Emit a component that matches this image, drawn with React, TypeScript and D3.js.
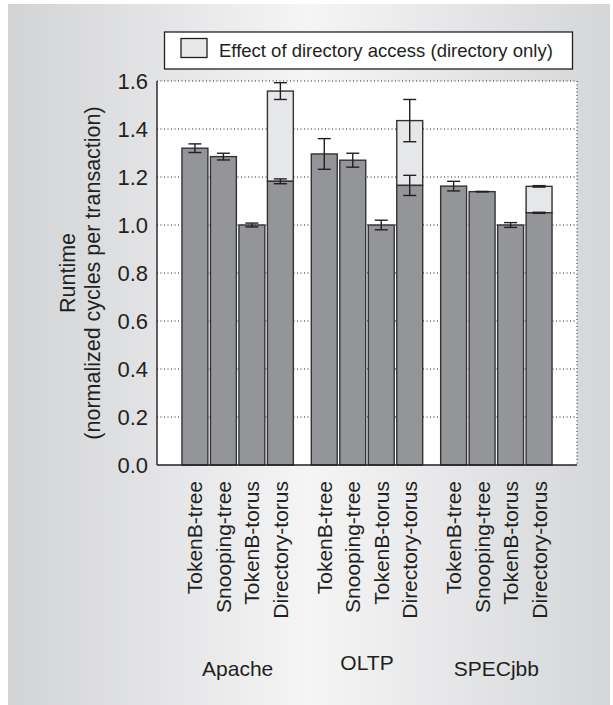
import React from 'react';
import * as d3 from 'd3';

// Runtime normalized to TokenB-torus, per workload
const workloads = ['Apache', 'OLTP', 'SPECjbb'];
const protocols = ['TokenB-tree', 'Snooping-tree', 'TokenB-torus', 'Directory-torus'];

const apacheRuntime = [1.32, 1.285, 1.0, 1.182];
const oltpRuntime = [1.296, 1.27, 1.0, 1.165];
const specjbbRuntime = [1.162, 1.139, 1.0, 1.051];

const apacheError = [0.018, 0.014, 0.008, 0.01];
const oltpError = [0.064, 0.029, 0.02, 0.042];
const specjbbError = [0.02, 0.001, 0.01, 0.002];

// directory-torus including the directory access latency
const directoryTotal = [1.558, 1.435, 1.161];
const directoryTotalError = [0.035, 0.088, 0.003];

const yTicks = [0, 0.2, 0.4, 0.6, 0.8, 1.0, 1.2, 1.4, 1.6];

const runtimes = [apacheRuntime, oltpRuntime, specjbbRuntime];
const errors = [apacheError, oltpError, specjbbError];

const W = 613;
const H = 705;
const plot = { left: 157, right: 577, top: 81, bottom: 465 };
const font = '"Liberation Sans", Arial, Helvetica, sans-serif';
const ink = '#231f20';
const barFill = '#939598';
const lightFill = '#e6e7e8';

export default function App() {
  const y = d3.scaleLinear().domain([0, 1.6]).range([plot.bottom, plot.top]);
  const xGroup = d3
    .scaleBand<string>()
    .domain(workloads)
    .range([plot.left, plot.right])
    .paddingInner(0.139)
    .paddingOuter(0.193);
  const xBar = d3
    .scaleBand<string>()
    .domain(protocols)
    .range([0, xGroup.bandwidth()])
    .paddingInner(0.09)
    .paddingOuter(0);

  const bw = xBar.bandwidth();
  const cap = 6.5;

  const errorBar = (cx: number, v: number, e: number, key: string) => (
    <g key={key} stroke={ink} strokeWidth={1.4}>
      <line x1={cx} x2={cx} y1={y(v + e)} y2={y(v - e)} />
      <line x1={cx - cap} x2={cx + cap} y1={y(v + e)} y2={y(v + e)} />
      <line x1={cx - cap} x2={cx + cap} y1={y(v - e)} y2={y(v - e)} />
    </g>
  );

  return (
    <svg
      width={W}
      height={H}
      style={{ position: 'absolute', left: 0, top: 0, background: '#fff' }}
      fontFamily={font}
    >
      <defs>
        <linearGradient id="bg" x1="0" x2="1" y1="0" y2="0">
          <stop offset="0" stopColor="#d2d3d5" />
          <stop offset="0.5" stopColor="#f5f5f6" />
          <stop offset="1" stopColor="#d5d6d8" />
        </linearGradient>
      </defs>
      <rect x={8} y={4} width={602} height={H - 4} fill="url(#bg)" />

      {/* legend */}
      <rect x={164.5} y={32} width={408} height={37} fill="#fff" stroke={ink} strokeWidth={1.3} />
      <rect x={181} y={38.5} width={26} height={19} fill={lightFill} stroke={ink} strokeWidth={1.3} />
      <text x={219} y={56.5} fontSize={18.5} fill={ink}>
        Effect of directory access (directory only)
      </text>

      {/* plot area */}
      <rect x={plot.left} y={plot.top} width={plot.right - plot.left} height={plot.bottom - plot.top} fill="#fff" />
      {yTicks.slice(1).map((t) => (
        <line
          key={t}
          x1={plot.left}
          x2={plot.right}
          y1={y(t)}
          y2={y(t)}
          stroke={ink}
          strokeWidth={1}
          strokeDasharray="1,2.5"
        />
      ))}
      <line
        x1={plot.right}
        x2={plot.right}
        y1={plot.top}
        y2={plot.bottom}
        stroke={ink}
        strokeWidth={1}
        strokeDasharray="1,2.5"
      />

      {/* bars */}
      {workloads.map((w, gi) => {
        const gx = xGroup(w)!;
        return (
          <g key={w}>
            {protocols.map((p, pi) => {
              const x0 = gx + xBar(p)!;
              const v = runtimes[gi][pi];
              const isDir = p === 'Directory-torus';
              return (
                <g key={p}>
                  {isDir && (
                    <rect
                      x={x0}
                      y={y(directoryTotal[gi])}
                      width={bw}
                      height={y(v) - y(directoryTotal[gi])}
                      fill={lightFill}
                      stroke="#333"
                      strokeWidth={1.4}
                    />
                  )}
                  <rect
                    x={x0}
                    y={y(v)}
                    width={bw}
                    height={y(0) - y(v)}
                    fill={barFill}
                    stroke="#333"
                    strokeWidth={1.4}
                  />
                  {errorBar(x0 + bw / 2, v, errors[gi][pi], 'e')}
                  {isDir && errorBar(x0 + bw / 2, directoryTotal[gi], directoryTotalError[gi], 'd')}
                </g>
              );
            })}
          </g>
        );
      })}

      {/* axes */}
      <line x1={plot.left} x2={plot.left} y1={plot.top} y2={plot.bottom} stroke={ink} strokeWidth={1.4} />
      <line x1={plot.left} x2={plot.right} y1={plot.bottom} y2={plot.bottom} stroke={ink} strokeWidth={1.4} />

      {yTicks.map((t) => (
        <text key={t} x={148} y={y(t)} dy="0.36em" textAnchor="end" fontSize={22} fill={ink}>
          {t.toFixed(1)}
        </text>
      ))}

      <g transform={`translate(0, ${(plot.top + plot.bottom) / 2})`}>
        <text transform="translate(75,0) rotate(-90)" textAnchor="middle" fontSize={21.5} fill={ink}>
          Runtime
        </text>
        <text transform="translate(100,0) rotate(-90)" textAnchor="middle" fontSize={21.5} fill={ink}>
          (normalized cycles per transaction)
        </text>
      </g>

      {workloads.map((w) =>
        protocols.map((p) => {
          const cx = xGroup(w)! + xBar(p)! + bw / 2;
          return (
            <text
              key={w + p}
              transform={`translate(${cx + 7.5},481) rotate(-90)`}
              textAnchor="end"
              fontSize={21}
              fill={ink}
            >
              {p}
            </text>
          );
        })
      )}

      {workloads.map((w) => (
        <text
          key={w}
          x={xGroup(w)! + xGroup.bandwidth() / 2}
          y={w === 'OLTP' ? 670 : 676}
          textAnchor="middle"
          fontSize={21}
          fill={ink}
        >
          {w}
        </text>
      ))}
    </svg>
  );
}
